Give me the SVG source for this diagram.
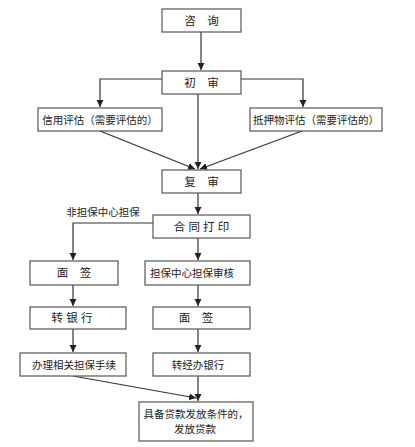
<svg xmlns="http://www.w3.org/2000/svg" width="415" height="447" viewBox="0 0 415 447">
<defs>
<marker id="ah" markerWidth="8" markerHeight="8" refX="7" refY="4" orient="auto" markerUnits="userSpaceOnUse">
<path d="M0,0.5 L7,4 L0,7.5 Z" fill="#222"/>
</marker>
<style>
.box{fill:#fff;stroke:#555;stroke-width:1.2}
.t{font-family:"Liberation Sans","Noto Sans CJK SC",sans-serif;font-size:10.5px;fill:#222;text-anchor:middle;dominant-baseline:central}
.s{font-size:11.5px}
.c{fill:none;stroke:#333;stroke-width:1.2;marker-end:url(#ah)}
</style>
</defs>
<rect width="415" height="447" fill="#fff"/>
<g id="connectors">
<path class="c" d="M201,32 V70"/>
<path class="c" d="M162,79 H100 V107"/>
<path class="c" d="M241,79 H303 V107"/>
<path class="c" d="M198,94 V169"/>
<path class="c" d="M100,131 L195,169"/>
<path class="c" d="M302,131 L200,169"/>
<path class="c" d="M198,193 V214"/>
<path class="c" d="M153,223 H73 V260"/>
<path class="c" d="M198,238 V260"/>
<path class="c" d="M73,285 V306"/>
<path class="c" d="M198,285 V306"/>
<path class="c" d="M73,329 V352"/>
<path class="c" d="M198,329 V352"/>
<path class="c" d="M73,376 L196,398"/>
<path class="c" d="M198,376 V401"/>
</g>
<g id="n1"><rect class="box" x="162" y="9" width="79" height="23"/><text class="t s" x="201.5" y="21">咨　询</text></g>
<g id="n2"><rect class="box" x="162" y="71" width="79" height="23"/><text class="t s" x="201.5" y="82.5">初　审</text></g>
<g id="n3"><rect class="box" x="38" y="108" width="124" height="23"/><text class="t" x="100" y="119.5">信用评估（需要评估的）</text></g>
<g id="n4"><rect class="box" x="250" y="108" width="132" height="23"/><text class="t" x="316" y="119.5">抵押物评估（需要评估的）</text></g>
<g id="n5"><rect class="box" x="162" y="170" width="79" height="23"/><text class="t s" x="201.5" y="181.5">复　审</text></g>
<g id="lbl"><text class="t" x="103" y="212">非担保中心担保</text></g>
<g id="n6"><rect class="box" x="153" y="215" width="97" height="23"/><text class="t s" x="201.5" y="226.5">合 同 打 印</text></g>
<g id="n7"><rect class="box" x="30" y="261" width="88" height="24"/><text class="t s" x="74" y="273">面　签</text></g>
<g id="n8"><rect class="box" x="145" y="261" width="105" height="24"/><text class="t" x="192" y="273">担保中心担保审核</text></g>
<g id="n9"><rect class="box" x="30" y="307" width="96" height="22"/><text class="t s" x="72" y="318">转 银 行</text></g>
<g id="n10"><rect class="box" x="153" y="307" width="97" height="22"/><text class="t s" x="196" y="318">面　签</text></g>
<g id="n11"><rect class="box" x="20" y="353" width="106" height="23"/><text class="t" x="74" y="364.5">办理相关担保手续</text></g>
<g id="n12"><rect class="box" x="153" y="353" width="97" height="23"/><text class="t" x="198" y="364.5">转经办银行</text></g>
<g id="n13"><rect class="box" x="139" y="402" width="114" height="39"/><text class="t" x="196" y="414">具备贷款发放条件的，</text><text class="t" x="195" y="429">发放贷款</text></g>
</svg>
